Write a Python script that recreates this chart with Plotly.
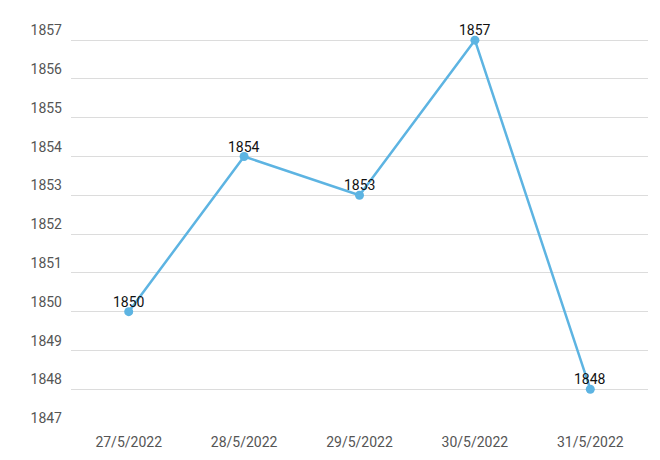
import plotly.graph_objects as go

dates = ['27/5/2022', '28/5/2022', '29/5/2022', '30/5/2022', '31/5/2022']
values = [1850, 1854, 1853, 1857, 1848]
y_ticks = list(range(1847, 1858))

fig = go.Figure()
fig.add_trace(go.Scatter(
    x=dates, y=values, mode='lines+markers',
    line=dict(color='#5db4e2', width=2.5),
    marker=dict(color='#5db4e2', size=9),
    cliponaxis=False,
))

# value labels sit just above each point, nearly touching it
for d, v in zip(dates, values):
    fig.add_annotation(x=d, y=v, text=str(v), showarrow=False, yshift=10,
                       font=dict(family='Roboto', size=14, color='#111'))

fig.update_layout(
    width=660, height=460,
    margin=dict(l=63, r=20, t=5, b=40),
    plot_bgcolor='white', paper_bgcolor='white',
    showlegend=False,
    font=dict(family='Roboto', size=14, color='#555'),
)
fig.update_xaxes(range=[-0.5, 4.5], showgrid=False, showline=False, ticks='',
                 ticklabelstandoff=4)
fig.update_yaxes(range=[1847, 1857.7], tickvals=y_ticks, gridcolor='#dcdcdc',
                 zeroline=False, showline=False, ticklabelposition='outside top',
                 ticklabelstandoff=8)

fig.write_html("out.html")
